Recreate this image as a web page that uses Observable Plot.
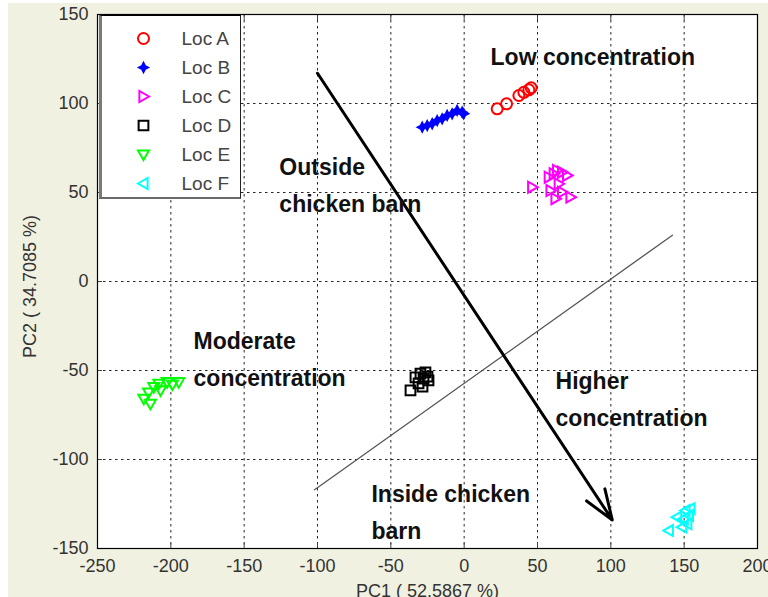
<!DOCTYPE html>
<html>
<head>
<meta charset="utf-8">
<script src="https://cdn.jsdelivr.net/npm/d3@7"></script>
<script src="https://cdn.jsdelivr.net/npm/@observablehq/plot@0.6"></script>
<style>
html, body { margin: 0; padding: 0; background: #ffffff; }
#wrap { position: relative; width: 768px; height: 597px; overflow: hidden; background: #ffffff; }
#chart { position: absolute; left: 8px; top: 3px; width: 760px; height: 594px; background: #f1f1e1; }
#chart svg { display: block; }
#legend { position: absolute; left: 99px; top: 15px; background: #ffffff;
  border-top: 1px solid #000; border-right: 1px solid #222;
  border-left: 3px solid #7a7a7a; border-bottom: 2px solid #6a6a6a; }
#legend svg { display: block; }
</style>
</head>
<body>
<div id="wrap"><div id="chart"></div><div id="legend"></div></div>
<script>
// ---- data ----
const locations = ["Loc A", "Loc B", "Loc C", "Loc D", "Loc E", "Loc F"];
const locColors = ["#ff0000", "#0000ff", "#ff00ff", "#000000", "#00ff00", "#00ffff"];

const pc1A = [22.5, 28.9, 37.3, 40.7, 44.1, 45.7];
const pc2A = [97.0, 99.8, 104.5, 106.3, 107.7, 108.8];
const pc1B = [-28.6, -25.2, -21.8, -18.4, -15.0, -11.6, -8.2, -4.8, -1.4, -0.3];
const pc2B = [86.7, 87.6, 88.6, 90.4, 91.4, 93.3, 94.2, 96.1, 95.1, 94.2];
const pc1C = [46.4, 57.7, 63.4, 66.8, 70.2, 58.9, 62.3, 66.8, 72.5, 64.5, 61.1];
const pc2C = [53.0, 58.6, 62.4, 61.4, 59.6, 51.1, 46.5, 50.2, 47.4, 54.9, 60.5];
const pc1D = [-36.6, -33.2, -29.8, -27.7, -31.1, -26.4, -25.0, -28.4, -24.3];
const pc2D = [-61.2, -53.9, -51.7, -54.5, -57.3, -51.1, -53.4, -59.0, -55.6];
const pc1E = [-218.4, -213.9, -211.6, -208.2, -202.5, -194.6, -215.2, -207.0, -198.9];
const pc2E = [-65.9, -68.7, -59.4, -57.5, -56.6, -56.6, -62.4, -61.2, -57.9];
const pc1F = [139.5, 145.2, 150.9, 152.1, 153.2, 148.6, 149.7, 154.3];
const pc2F = [-139.9, -132.4, -128.7, -136.1, -131.5, -138.0, -133.3, -127.7];

const xTicks = [-250, -200, -150, -100, -50, 0, 50, 100, 150, 200];
const yTicks = [-150, -100, -50, 0, 50, 100, 150];
const xLabel = "PC1 ( 52.5867 %)";
const yLabel = "PC2 ( 34.7085 %)";

const noteText = ["Low concentration", "Outside\nchicken barn", "Moderate\nconcentration", "Higher\nconcentration", "Inside chicken\nbarn"];
const noteX = [18.0, -126.0, -184.5, 62.3, -63.2];
const noteY = [128.1, 55.9, -41.6, -64.3, -127.5];

const arrowFrom = [-100, 117];
const arrowTo = [101, -134];
const boundaryX = [-102, 142];
const boundaryY = [-117, 26];

// ---- marker shapes (MATLAB style) ----
const rad = (s) => Math.sqrt(s / Math.PI);
const triRight = { draw(c, s) { const r = rad(s); c.moveTo(r, 0); c.lineTo(-0.75 * r, -r); c.lineTo(-0.75 * r, r); c.closePath(); } };
const triLeft  = { draw(c, s) { const r = rad(s); c.moveTo(-r, 0); c.lineTo(0.75 * r, -r); c.lineTo(0.75 * r, r); c.closePath(); } };
const triDown  = { draw(c, s) { const r = rad(s); c.moveTo(0, r); c.lineTo(-r, -0.75 * r); c.lineTo(r, -0.75 * r); c.closePath(); } };
const star4 = { draw(c, s) { const r = rad(s) * 1.15, q = r * 0.34;
  c.moveTo(0, -r); c.lineTo(q, -q); c.lineTo(r, 0); c.lineTo(q, q);
  c.lineTo(0, r); c.lineTo(-q, q); c.lineTo(-r, 0); c.lineTo(-q, -q); c.closePath(); } };
const locSymbols = ["circle", star4, triRight, "square", triDown, triLeft];

// ---- tables ----
const series = [[pc1A, pc2A], [pc1B, pc2B], [pc1C, pc2C], [pc1D, pc2D], [pc1E, pc2E], [pc1F, pc2F]];
const points = series.flatMap(([xs, ys], i) => xs.map((x, j) => ({ loc: locations[i], x, y: ys[j] })));
const notes = noteText.map((t, i) => ({ t, x: noteX[i], y: noteY[i] }));
const boundary = boundaryX.map((x, i) => ({ x, y: boundaryY[i] }));
const arrowRow = [{ x1: arrowFrom[0], y1: arrowFrom[1], x2: arrowTo[0], y2: arrowTo[1] }];

const font = "'Liberation Sans', Arial, Helvetica, sans-serif";
const dash = { stroke: "#000", strokeOpacity: 0.85, strokeDasharray: "2.5,3.5", strokeWidth: 1 };
const blank = () => "";
const plain = (d) => String(d);

const chart = Plot.plot({
  width: 760, height: 594,
  marginLeft: 89, marginRight: 11, marginTop: 11, marginBottom: 49,
  style: { background: "transparent", fontFamily: font, fontSize: "18px", color: "#333" },
  x: { domain: [-250, 200], ticks: xTicks, label: null },
  y: { domain: [-150, 150], ticks: yTicks, label: null },
  color: { domain: locations, range: locColors },
  symbol: { domain: locations, range: locSymbols },
  marks: [
    Plot.frame({ fill: "#ffffff", stroke: null }),
    Plot.gridX({ ticks: xTicks, ...dash }),
    Plot.gridY({ ticks: yTicks, ...dash }),
    Plot.axisX({ ticks: xTicks, anchor: "bottom", tickSize: 0, tickPadding: 11, tickFormat: plain, label: null, fontSize: 18 }),
    Plot.axisY({ ticks: yTicks, anchor: "left", tickSize: 0, tickPadding: 9, tickFormat: plain, label: null, fontSize: 18 }),
    Plot.axisX({ ticks: xTicks, anchor: "bottom", tickSize: 5, dy: -5, tickFormat: blank, label: null, stroke: "#444" }),
    Plot.axisX({ ticks: xTicks, anchor: "top", tickSize: 5, dy: 5, tickFormat: blank, label: null, stroke: "#444" }),
    Plot.axisY({ ticks: yTicks, anchor: "left", tickSize: 5, dx: 5, tickFormat: blank, label: null, stroke: "#444" }),
    Plot.axisY({ ticks: yTicks, anchor: "right", tickSize: 5, dx: -5, tickFormat: blank, label: null, stroke: "#444" }),
    Plot.line(boundary, { x: "x", y: "y", stroke: "#555", strokeWidth: 1.3 }),
    Plot.arrow(arrowRow, { x1: "x1", y1: "y1", x2: "x2", y2: "y2", stroke: "#000", strokeWidth: 3, headLength: 16, headAngle: 40 }),
    Plot.dot(points.filter(d => d.loc !== "Loc B"), { x: "x", y: "y", symbol: "loc", stroke: "loc", r: 5.5, strokeWidth: 2 }),
    Plot.dot(points.filter(d => d.loc === "Loc B"), { x: "x", y: "y", symbol: "loc", fill: "loc", r: 5.8 }),
    Plot.text(notes, { x: "x", y: "y", text: "t", textAnchor: "start", fontWeight: "bold", fontSize: 23, lineHeight: 1.6, fill: "#111" }),
    Plot.frame({ stroke: "#000", strokeWidth: 1.2 }),
    Plot.text([xLabel], { frameAnchor: "bottom", textAnchor: "middle", lineAnchor: "middle", dy: 43, text: d => d, fontSize: 18, fill: "#333" }),
    Plot.text([yLabel], { frameAnchor: "left", textAnchor: "middle", lineAnchor: "middle", dx: -67, dy: 5, rotate: -90, text: d => d, fontSize: 18, fill: "#333" })
  ]
});
document.getElementById("chart").appendChild(chart);

const legend = Plot.plot({
  width: 138, height: 181, margin: 0,
  style: { background: "#ffffff", fontFamily: font, fontSize: "19px", color: "#444" },
  x: { domain: [0, 1], axis: null },
  y: { type: "point", domain: locations, range: [22, 167], padding: 0, axis: null },
  color: { domain: locations, range: locColors },
  symbol: { domain: locations, range: locSymbols },
  marks: [
    Plot.dot(locations.filter(d => d !== "Loc B"), { y: d => d, frameAnchor: "left", dx: 41, symbol: d => d, stroke: d => d, r: 5.5, strokeWidth: 2 }),
    Plot.dot(locations.filter(d => d === "Loc B"), { y: d => d, frameAnchor: "left", dx: 41, symbol: d => d, fill: d => d, r: 5.8 }),
    Plot.text(locations, { y: d => d, text: d => d, frameAnchor: "left", dx: 79, textAnchor: "start", fill: "#444" })
  ]
});
document.getElementById("legend").appendChild(legend);
</script>
</body>
</html>
